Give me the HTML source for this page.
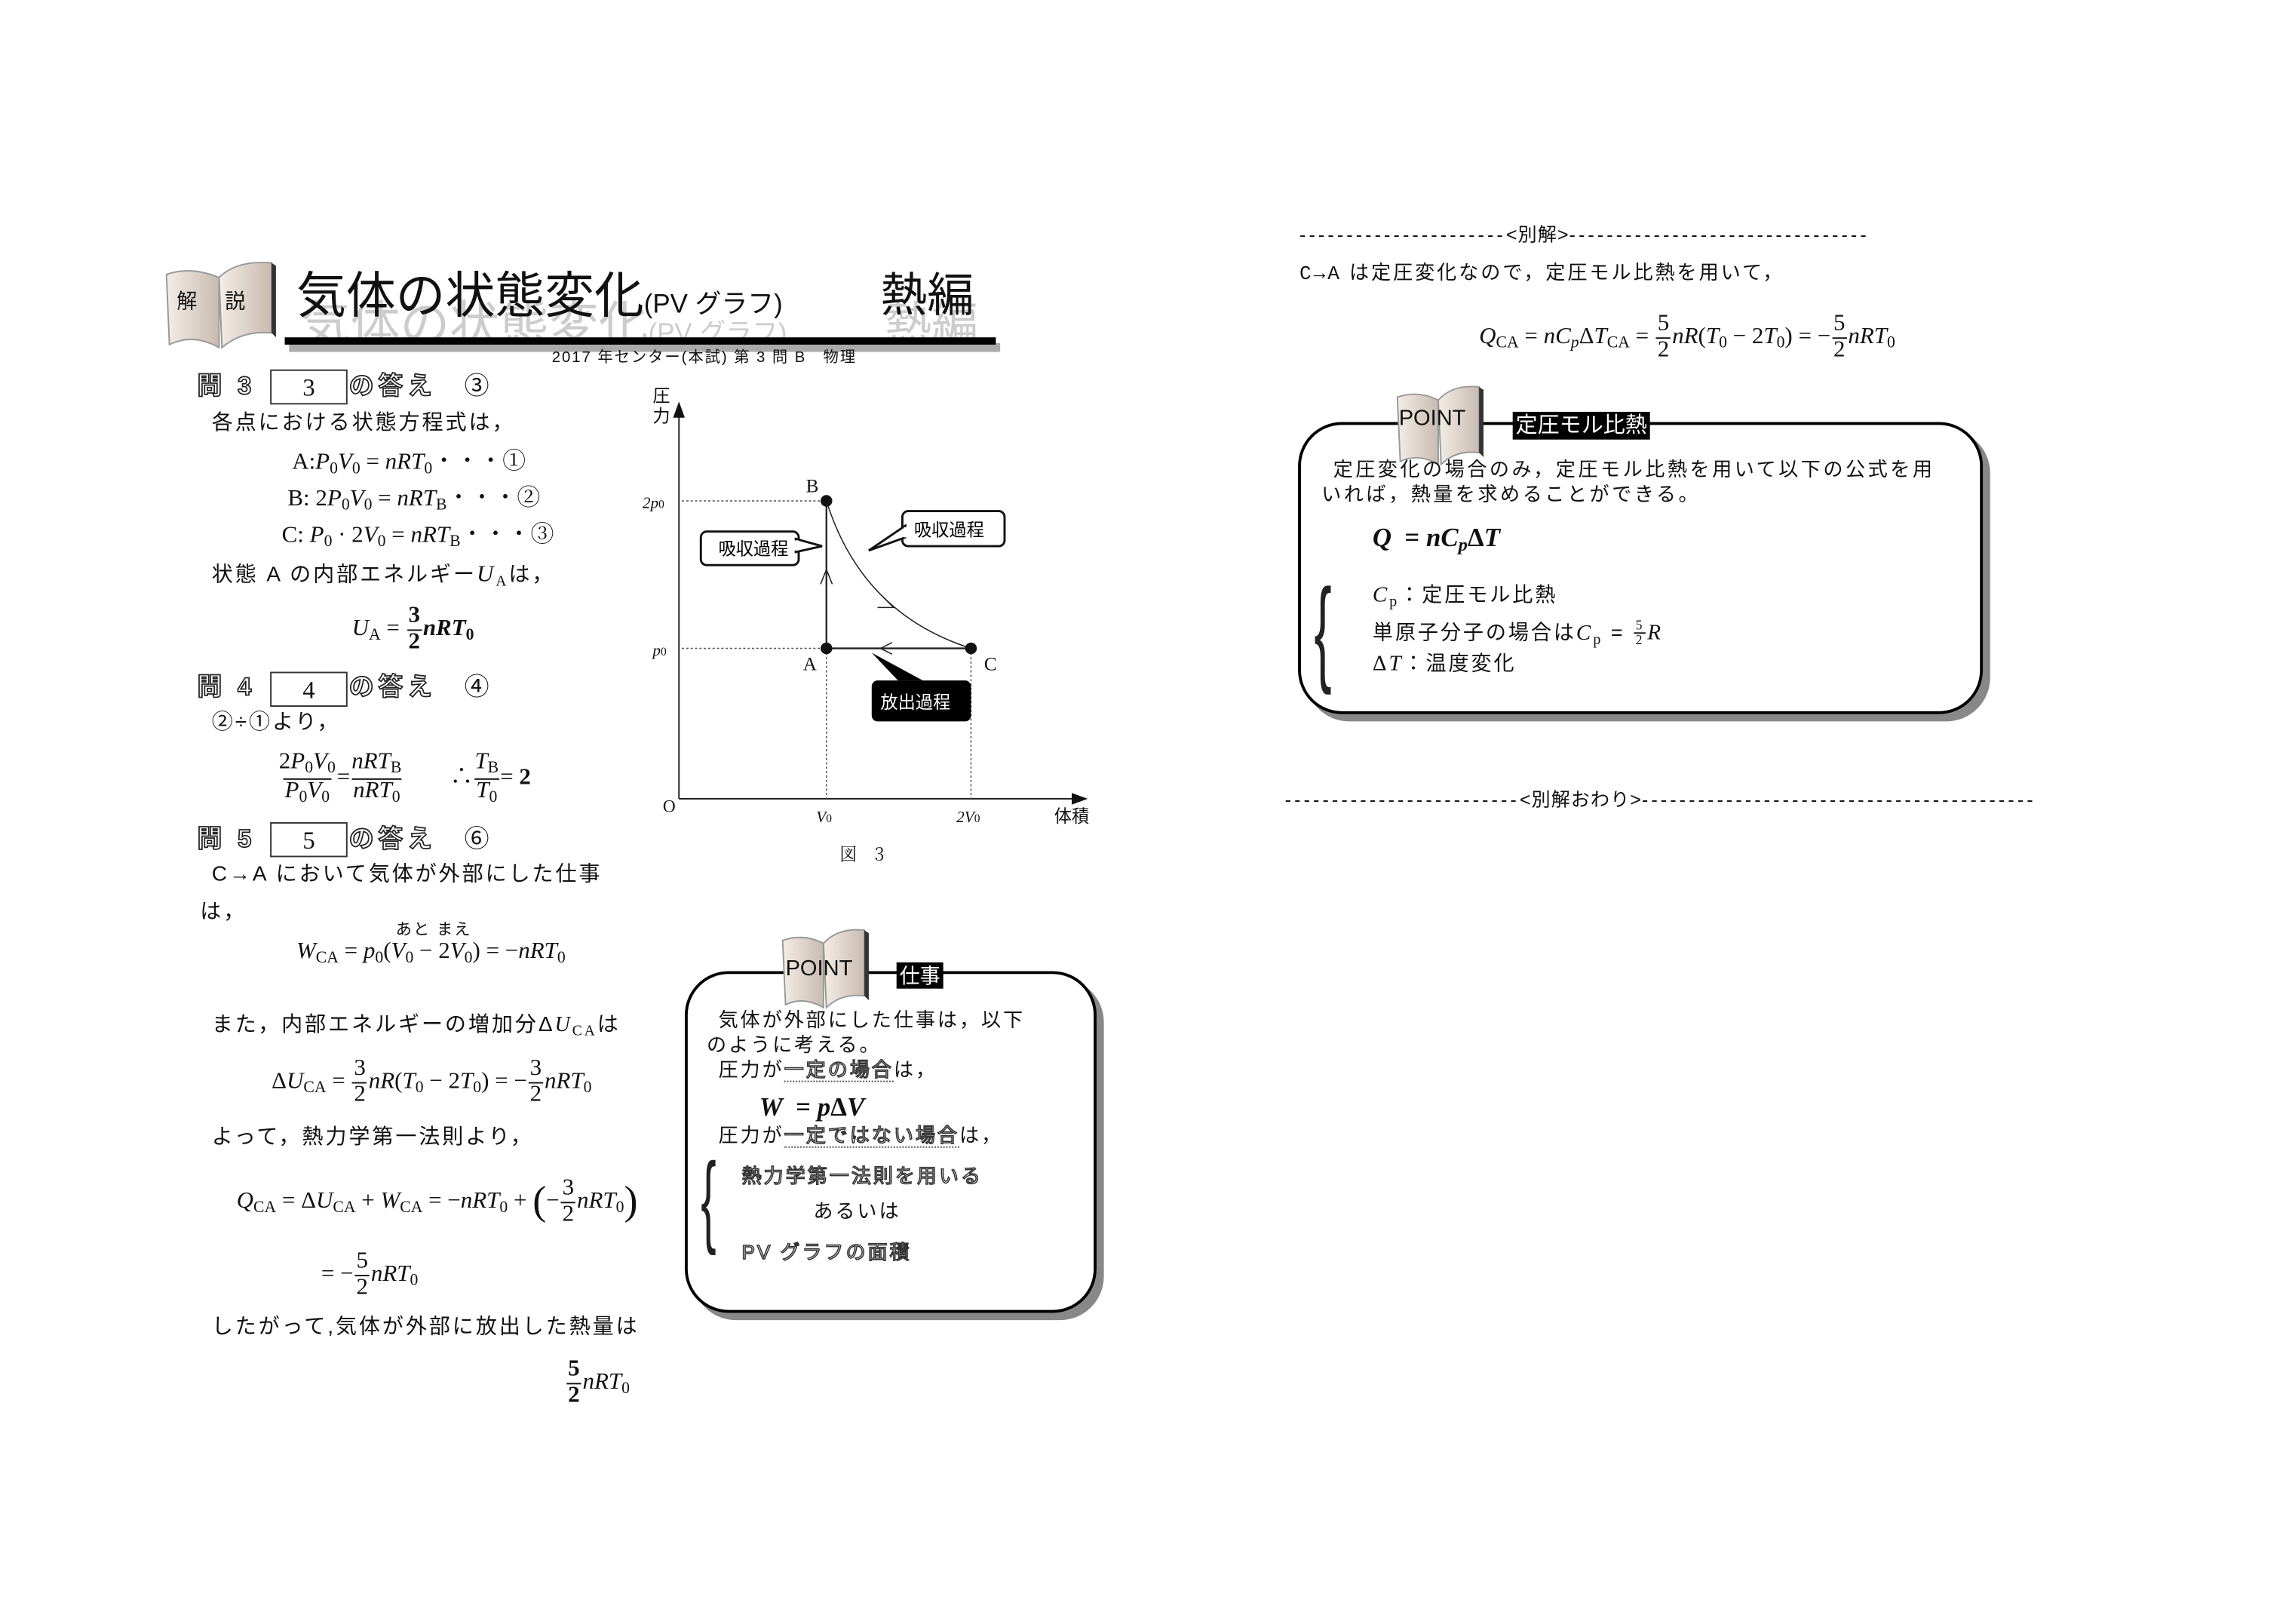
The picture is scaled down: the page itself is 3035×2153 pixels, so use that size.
<!DOCTYPE html>
<html><head><meta charset="utf-8">
<style>
html,body{margin:0;padding:0;background:#fff;}
body{width:3035px;height:2150px;overflow:hidden;position:relative;}
#w{position:absolute;left:0;top:0;width:1570px;height:1112px;transform:scale(1.936);transform-origin:0 0;font-family:"Liberation Sans","Noto Sans CJK JP",sans-serif;color:#111;}
.a{position:absolute;white-space:nowrap;line-height:1;}
.t{font-size:14.5px;letter-spacing:1.5px;}
.m{font-family:"Liberation Serif","Noto Serif CJK SC",serif;font-size:16px;}
.i{font-style:italic;}
sub{font-size:70%;vertical-align:-3px;font-style:normal;}
.fr{display:inline-flex;flex-direction:column;align-items:center;vertical-align:middle;line-height:1.05;margin:0 1px;}
.fr>span:last-child{border-top:1px solid #111;padding:0 1px;}
.q{font-size:17px;font-weight:bold;color:#fff;-webkit-text-stroke:0.9px #222;letter-spacing:3px;}
.box{position:absolute;border:1px solid #333;width:51px;height:22px;text-align:center;font-family:"Liberation Serif",serif;font-size:17px;line-height:23px;}
.circ{font-size:17px;}
.pt{position:absolute;border:2px solid #000;border-radius:30px;background:#fff;box-shadow:5px 5px 0 #888;}
.blk{position:absolute;background:#000;color:#fff;font-size:14px;line-height:18px;padding:0 2px;}
.ol{color:#fff;-webkit-text-stroke:0.8px #333;}
.dl{letter-spacing:2.1px;}
.dl b{font-weight:normal;letter-spacing:0.5px;}
</style></head><body><div id="w">

<!-- header -->
<svg class="a" style="left:110px;top:176px" width="82" height="68" viewBox="0 0 82 68">
<defs><linearGradient id="g" x1="0" x2="1"><stop offset="0" stop-color="#f4ede6"/><stop offset="1" stop-color="#c9bbb0"/></linearGradient></defs>
<path d="M4 12 Q20 6 40 14 L40 62 Q22 52 6 60 Z" fill="url(#g)" stroke="#999"/>
<path d="M40 14 Q52 2 76 4 L76 52 Q56 50 42 62 Z" fill="url(#g)" stroke="#999"/>
<path d="M76 4 L79 6 L79 55 L76 52" fill="#333"/>
</svg>
<div class="a" style="left:121px;top:199px;font-size:14px">解</div>
<div class="a" style="left:154px;top:199px;font-size:14px">説</div>
<div class="a" style="left:206px;top:206px;font-size:34px;color:#ccc;">気体の状態変化<span style="font-size:18px">(PV グラフ)</span></div>
<div class="a" style="left:606px;top:206px;font-size:32px;color:#ccc;">熱編</div>
<div class="a" style="left:203px;top:186px;font-size:34px;">気体の状態変化<span style="font-size:18px">(PV グラフ)</span></div>
<div class="a" style="left:603px;top:186px;font-size:32px;">熱編</div>
<div class="a" style="left:198px;top:235px;width:487px;height:6px;background:#aaa;"></div>
<div class="a" style="left:195px;top:231px;width:487px;height:5px;background:#000;"></div>
<div class="a" style="left:378px;top:240px;font-size:10.5px;letter-spacing:1px">2017 年センター(本試) 第 3 問 B　物理</div>

<!-- left column -->
<div class="a q" style="left:135px;top:256px">問 3</div>
<div class="box" style="left:185px;top:253px">3</div>
<div class="a q" style="left:239px;top:256px">の答え</div>
<div class="a circ" style="left:318px;top:256px">③</div>
<div class="a t" style="left:145px;top:283px">各点における状態方程式は，</div>
<div class="a m" style="left:200px;top:309px">A:<i>P</i><sub>0</sub><i>V</i><sub>0</sub> = <i>nRT</i><sub>0</sub>・・・①</div>
<div class="a m" style="left:197px;top:334px">B: 2<i>P</i><sub>0</sub><i>V</i><sub>0</sub> = <i>nRT</i><sub>B</sub>・・・②</div>
<div class="a m" style="left:193px;top:359px">C: <i>P</i><sub>0</sub> · 2<i>V</i><sub>0</sub> = <i>nRT</i><sub>B</sub>・・・③</div>
<div class="a t" style="left:145px;top:386px">状態 A の内部エネルギー<i class="m" style="font-family:'Liberation Serif',serif">U</i><sub style="font-family:'Liberation Serif',serif">A</sub>は，</div>
<div class="a m" style="left:241px;top:414px"><i>U</i><sub>A</sub> = <span class="fr"><b><span>3</span></b><span><b>2</b></span></span><b><i>nRT</i><sub>0</sub></b></div>

<div class="a q" style="left:135px;top:462px">問 4</div>
<div class="box" style="left:185px;top:460px">4</div>
<div class="a q" style="left:239px;top:462px">の答え</div>
<div class="a circ" style="left:318px;top:462px">④</div>
<div class="a t" style="left:145px;top:488px">②÷①より，</div>
<div class="a m" style="left:190px;top:514px"><span class="fr"><span>2<i>P</i><sub>0</sub><i>V</i><sub>0</sub></span><span><i>P</i><sub>0</sub><i>V</i><sub>0</sub></span></span>=<span class="fr"><span><i>nRT</i><sub>B</sub></span><span><i>nRT</i><sub>0</sub></span></span>&nbsp;&nbsp;&nbsp;&nbsp;&nbsp;&nbsp;&nbsp;&nbsp;∴<span class="fr"><span><i>T</i><sub>B</sub></span><span><i>T</i><sub>0</sub></span></span>= <b>2</b></div>

<div class="a q" style="left:135px;top:566px">問 5</div>
<div class="box" style="left:185px;top:563px">5</div>
<div class="a q" style="left:239px;top:566px">の答え</div>
<div class="a circ" style="left:318px;top:566px">⑥</div>
<div class="a t" style="left:145px;top:592px">C→A において気体が外部にした仕事</div>
<div class="a t" style="left:137px;top:618px">は，</div>
<div class="a" style="left:271px;top:632px;font-size:11px;letter-spacing:1px">あと まえ</div>
<div class="a m" style="left:203px;top:644px"><i>W</i><sub>CA</sub> = <i>p</i><sub>0</sub>(<i>V</i><sub>0</sub> − 2<i>V</i><sub>0</sub>) = −<i>nRT</i><sub>0</sub></div>
<div class="a t" style="left:145px;top:695px">また，内部エネルギーの増加分Δ<i style="font-family:'Liberation Serif',serif">U</i><sub style="font-family:'Liberation Serif',serif">CA</sub>は</div>
<div class="a m" style="left:186px;top:724px">Δ<i>U</i><sub>CA</sub> = <span class="fr"><span>3</span><span>2</span></span><i>nR</i>(<i>T</i><sub>0</sub> − 2<i>T</i><sub>0</sub>) = −<span class="fr"><span>3</span><span>2</span></span><i>nRT</i><sub>0</sub></div>
<div class="a t" style="left:145px;top:772px">よって，熱力学第一法則より，</div>
<div class="a m" style="left:162px;top:806px"><i>Q</i><sub>CA</sub> = Δ<i>U</i><sub>CA</sub> + <i>W</i><sub>CA</sub> = −<i>nRT</i><sub>0</sub> + <span style="font-size:28px;vertical-align:middle">(</span>−<span class="fr"><span>3</span><span>2</span></span><i>nRT</i><sub>0</sub><span style="font-size:28px;vertical-align:middle">)</span></div>
<div class="a m" style="left:220px;top:856px">= −<span class="fr"><span>5</span><span>2</span></span><i>nRT</i><sub>0</sub></div>
<div class="a t" style="left:145px;top:902px">したがって,気体が外部に放出した熱量は</div>
<div class="a m" style="left:387px;top:930px"><span class="fr"><b><span>5</span></b><span><b>2</b></span></span><i>nRT</i><sub>0</sub></div>

<!-- graph -->
<svg class="a" style="left:430px;top:260px" width="330" height="340" viewBox="430 260 330 340">
<g font-family="Liberation Serif,serif" fill="#111">
<line x1="465" y1="547" x2="465" y2="282" stroke="#222" stroke-width="1"/>
<polygon points="465,275 461,286 469,286"/>
<line x1="465" y1="547" x2="738" y2="547" stroke="#222" stroke-width="1"/>
<polygon points="745,547 734,543 734,551"/>
<g stroke="#555" stroke-width="0.8" stroke-dasharray="1.5,1.5">
<line x1="467" y1="343" x2="566" y2="343"/><line x1="467" y1="444" x2="566" y2="444"/>
<line x1="566" y1="444" x2="566" y2="547"/><line x1="665" y1="444" x2="665" y2="547"/>
</g>
<line x1="566" y1="343" x2="566" y2="444" stroke="#222" stroke-width="1.2"/>
<line x1="566" y1="444" x2="665" y2="444" stroke="#222" stroke-width="1.2"/>
<path d="M566 343 Q590 420 665 444" fill="none" stroke="#222" stroke-width="0.8"/>
<polyline points="562,400 566,390 570,400" fill="none" stroke="#222" stroke-width="0.8"/>
<polyline points="611,440 603,444 611,448" fill="none" stroke="#222" stroke-width="0.8"/>
<polyline points="604,408 612,416 601,416" fill="none" stroke="#222" stroke-width="0.8"/>
<circle cx="566" cy="343" r="4"/><circle cx="566" cy="444" r="4"/><circle cx="665" cy="444" r="4"/>
<text x="552" y="337" font-size="13">B</text><text x="550" y="459" font-size="13">A</text><text x="674" y="459" font-size="13">C</text>
<text x="440" y="348" font-size="11" font-style="italic">2<tspan>p</tspan><tspan font-size="8" font-style="normal">0</tspan></text>
<text x="447" y="449" font-size="11" font-style="italic">p<tspan font-size="8" font-style="normal">0</tspan></text>
<text x="454" y="556" font-size="12">O</text>
<text x="559" y="563" font-size="11" font-style="italic">V<tspan font-size="8" font-style="normal">0</tspan></text>
<text x="655" y="563" font-size="11" font-style="italic">2V<tspan font-size="8" font-style="normal">0</tspan></text>
<text x="722" y="563" font-size="12" font-family="Noto Sans CJK JP,sans-serif">体積</text>
<text x="447" y="275" font-size="12" font-family="Noto Sans CJK JP,sans-serif">圧</text>
<text x="447" y="289" font-size="12" font-family="Noto Sans CJK JP,sans-serif">力</text>
<text x="575" y="589" font-size="12" font-family="Noto Serif CJK SC,serif">図　3</text>
</g>
<g font-family="Liberation Sans,Noto Sans CJK JP,sans-serif" font-size="12">
<rect x="480" y="364" width="67" height="23" rx="4" fill="#fff" stroke="#111" stroke-width="1.5"/>
<polygon points="545,369 563,374 545,378" fill="#fff" stroke="#111" stroke-width="1.5"/>
<rect x="543" y="370" width="4" height="7" fill="#fff"/>
<text x="492" y="380">吸収過程</text>
<rect x="618" y="350" width="70" height="24" rx="4" fill="#fff" stroke="#111" stroke-width="1.5"/>
<polygon points="620,360 595,377 620,368" fill="#fff" stroke="#111" stroke-width="1.5"/>
<rect x="619" y="361" width="4" height="7" fill="#fff"/>
<text x="626" y="367">吸収過程</text>
<polygon points="597,447 615,466 632,466" fill="#000"/>
<rect x="597" y="466" width="68" height="28" rx="4" fill="#000"/>
<text x="603" y="485" fill="#fff">放出過程</text>
</g>
</svg>

<!-- POINT 仕事 -->
<div class="pt" style="left:469px;top:665px;width:278px;height:230px"></div>
<svg class="a" style="left:532px;top:634px" width="66" height="60" viewBox="0 0 66 60">
<path d="M4 10 Q18 5 32 12 L32 56 Q18 48 6 54 Z" fill="url(#g)" stroke="#999"/>
<path d="M32 12 Q42 1 60 3 L60 48 Q44 46 34 56 Z" fill="url(#g)" stroke="#999"/>
<path d="M60 3 L63 5 L63 51 L60 48" fill="#333"/>
</svg>
<div class="a" style="left:538px;top:656px;font-size:15px;">POINT</div>
<div class="blk" style="left:614px;top:659px">仕事</div>
<div class="a t" style="left:492px;top:692px;font-size:13.5px">気体が外部にした仕事は，以下</div>
<div class="a t" style="left:484px;top:709px;font-size:13.5px">のように考える。</div>
<div class="a t" style="left:492px;top:726px;font-size:13.5px">圧力が<span class="ol" style="border-bottom:1px dotted #555">一定の場合</span>は，</div>
<div class="a m" style="left:520px;top:749px;font-size:18px;font-weight:bold"><i>W</i>&nbsp;&nbsp;= <i>p</i>Δ<i>V</i></div>
<div class="a t" style="left:492px;top:771px;font-size:13.5px">圧力が<span class="ol" style="border-bottom:1px dotted #555">一定ではない場合</span>は，</div>
<div class="a" style="left:480px;top:786px;font-size:70px;font-weight:100;transform:scaleX(0.45);transform-origin:0 0;line-height:1;color:#222">{</div>
<div class="a t ol" style="left:508px;top:799px;font-size:13.5px">熱力学第一法則を用いる</div>
<div class="a t" style="left:557px;top:823px;font-size:13.5px">あるいは</div>
<div class="a t ol" style="left:508px;top:851px;font-size:13.5px">PV グラフの面積</div>

<!-- right -->
<div class="a dl" style="left:890px;top:154px;font-size:13px">----------------------<b>&lt;別解&gt;</b>--------------------------------</div>
<div class="a t" style="left:890px;top:180px;font-size:13.5px"><span style="font-family:'Liberation Mono',monospace">C→A</span> は定圧変化なので，定圧モル比熱を用いて，</div>
<div class="a m" style="left:1013px;top:214px;font-size:16px"><i>Q</i><sub>CA</sub> = <i>nC</i><sub><i>p</i></sub>Δ<i>T</i><sub>CA</sub> = <span class="fr"><span>5</span><span>2</span></span><i>nR</i>(<i>T</i><sub>0</sub> − 2<i>T</i><sub>0</sub>) = −<span class="fr"><span>5</span><span>2</span></span><i>nRT</i><sub>0</sub></div>

<div class="pt" style="left:889px;top:289px;width:465px;height:196px"></div>
<svg class="a" style="left:953px;top:262px" width="66" height="60" viewBox="0 0 66 60">
<path d="M4 10 Q18 5 32 12 L32 56 Q18 48 6 54 Z" fill="url(#g)" stroke="#999"/>
<path d="M32 12 Q42 1 60 3 L60 48 Q44 46 34 56 Z" fill="url(#g)" stroke="#999"/>
<path d="M60 3 L63 5 L63 51 L60 48" fill="#333"/>
</svg>
<div class="a" style="left:958px;top:279px;font-size:15px;">POINT</div>
<div class="blk" style="left:1036px;top:282px;font-size:15px;line-height:19px">定圧モル比熱</div>
<div class="a t" style="left:913px;top:315px;font-size:13.5px;letter-spacing:1.8px">定圧変化の場合のみ，定圧モル比熱を用いて以下の公式を用</div>
<div class="a t" style="left:905px;top:332px;font-size:13.5px;letter-spacing:1.8px">いれば，熱量を求めることができる。</div>
<div class="a m" style="left:940px;top:359px;font-size:18px;font-weight:bold"><i>Q</i>&nbsp;&nbsp;= <i>nC</i><sub><i>p</i></sub>Δ<i>T</i></div>
<div class="a" style="left:900px;top:392px;font-size:80px;font-weight:100;transform:scaleX(0.45);transform-origin:0 0;line-height:1;color:#222">{</div>
<div class="a t" style="left:940px;top:400px;font-size:14px"><i class="m" style="font-size:15px">C<sub>p</sub></i>：定圧モル比熱</div>
<div class="a t" style="left:940px;top:424px;font-size:14px">単原子分子の場合は<i class="m" style="font-size:15px">C<sub>p</sub></i> = <span class="fr m" style="font-size:9px"><span>5</span><span>2</span></span><i class="m" style="font-size:15px">R</i></div>
<div class="a t" style="left:940px;top:447px;font-size:14px"><span class="m" style="font-size:15px">Δ<i>T</i></span>：温度変化</div>

<div class="a dl" style="left:880px;top:541px;font-size:13px">-------------------------<b>&lt;別解おわり&gt;</b>------------------------------------------</div>

</div></body></html>
